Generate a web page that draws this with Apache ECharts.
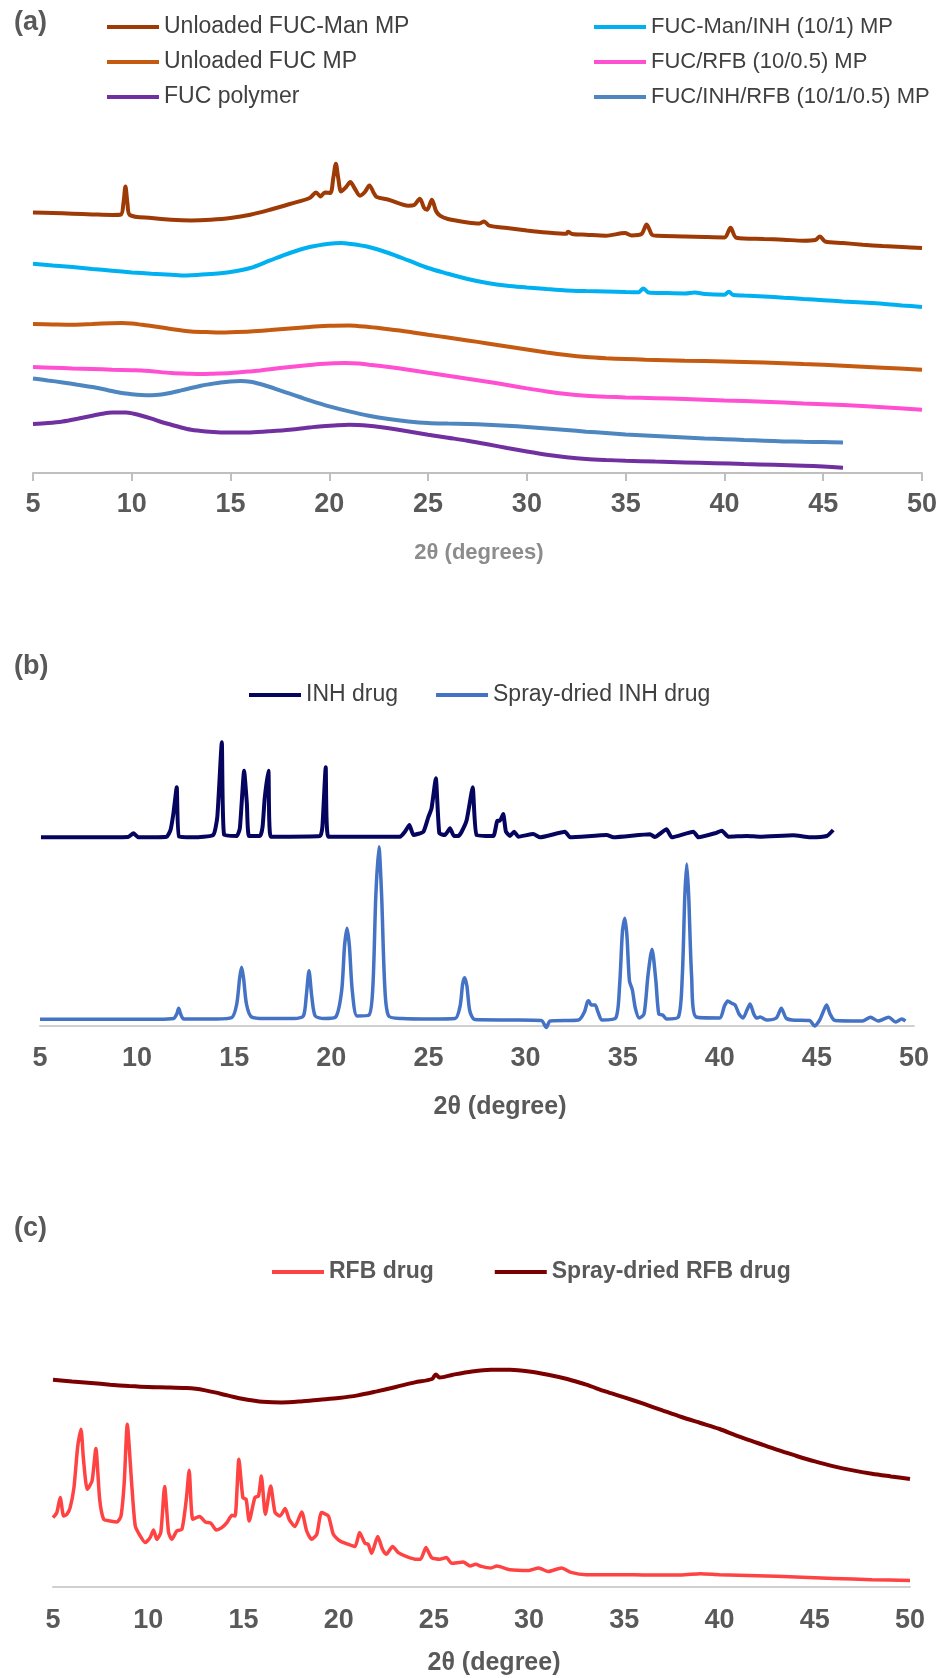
<!DOCTYPE html>
<html>
<head>
<meta charset="utf-8">
<script src="https://cdn.jsdelivr.net/npm/echarts@6/dist/echarts.min.js"></script>
<style>
html,body{margin:0;padding:0;background:#fff}
#chart{width:946px;height:1678px}
</style>
</head>
<body>
<div id="chart"></div>
<script>
// 2θ axis ticks shared by all three panels
const thetaTicks = [5, 10, 15, 20, 25, 30, 35, 40, 45, 50];

// ---- panel (a): microparticles, offset intensity (a.u.) vs 2θ ----
const fucManMP = [[5.0,260.6],[6.0,260],[7.0,259.3],[8.0,258.6],[9.0,258],[9.45,258.5],[9.58,270],[9.68,286.6],[9.78,270],[9.9,258],[11.0,255],[12.0,253.3],[13.0,252.6],[14.0,253.3],[15.0,255],[16.0,258.3],[17.0,263.3],[18.0,269],[19.0,275],[19.33,280.6],[19.55,276.6],[19.78,280.6],[20.05,280],[20.2,295],[20.33,309.3],[20.45,295],[20.6,281.6],[20.85,286],[21.06,291],[21.3,284],[21.55,277.3],[21.8,281],[22.03,287.6],[22.25,280],[22.4,276],[23.0,273.3],[24.0,267.3],[24.3,268],[24.58,274.3],[24.8,265],[24.95,263.3],[25.19,273.3],[25.4,262],[25.6,257.3],[26.0,254],[27.0,250.6],[27.6,249.5],[27.83,251.6],[28.1,247.3],[29.0,245],[30.0,242.6],[31.0,240.6],[32.0,239.3],[32.08,241.3],[32.3,239],[33.0,238.3],[34.0,237.3],[34.96,240],[35.3,237.6],[35.8,239],[36.06,248.6],[36.35,238],[36.6,237.3],[38.0,236.6],[39.0,236],[40.0,235.6],[40.31,245.3],[40.6,235.3],[42.0,234],[43.0,233.3],[44.0,232.3],[44.6,233],[44.83,236.6],[45.1,231.5],[46.0,230],[47.0,228.3],[48.0,227],[49.0,226],[50.0,225]];
const fucManInhMP = [[5.0,209.3],[6.0,207.6],[7.0,206],[8.0,204],[9.0,202.3],[10.0,200.6],[11.0,199.3],[12.0,198.3],[12.5,197.6],[13.0,197.8],[14.0,199],[15.0,201],[16.0,205],[17.0,212.6],[18.0,220],[19.0,226],[20.0,229.3],[20.6,230],[21.0,229.3],[22.0,226],[23.0,220],[24.0,212.6],[25.0,205],[26.0,199.3],[27.0,194],[28.0,190],[29.0,187.3],[30.0,185.6],[31.0,184],[32.0,182.6],[33.0,182],[34.0,181.6],[35.0,181],[35.65,180.8],[35.9,184.6],[36.15,180.6],[37.0,180],[38.0,179.6],[38.5,180.6],[39.0,179],[40.0,178.3],[40.22,181.3],[40.45,178],[41.0,177.5],[42.0,176.6],[43.0,175.3],[44.0,174],[45.0,172.8],[46.0,171.6],[47.0,170.5],[48.0,169.3],[49.0,167.6],[50.0,166]];
const fucMP = [[5.0,149],[6.0,148.6],[7.0,148.3],[8.0,149],[9.0,149.8],[9.5,150],[10.0,149.5],[10.5,148.3],[11.0,147],[12.0,144],[13.0,141.6],[14.0,140.8],[14.5,140.6],[15.0,140.8],[16.0,141.6],[17.0,143],[18.0,144.6],[19.0,146],[20.0,147.3],[21.0,147.6],[22.0,146],[23.0,143.8],[24.0,141.3],[25.0,138.3],[26.0,135.5],[27.0,132.6],[28.0,129.6],[29.0,126.6],[30.0,123.6],[31.0,120.6],[32.0,118],[33.0,116],[34.0,114.8],[35.0,114],[36.0,113.3],[38.0,112.3],[40.0,111.5],[42.0,110.6],[44.0,109],[46.0,107.3],[48.0,105.3],[50.0,103.3]];
const fucRfbMP = [[5.0,106],[6.0,105.3],[7.0,104.6],[8.0,104],[9.0,103.3],[10.0,102.8],[10.5,102.6],[11.0,101.8],[12.0,100],[13.0,99.2],[13.5,99],[14.0,99.2],[15.0,100],[16.0,101.6],[16.5,102.6],[17.0,103.8],[18.0,106],[19.0,108],[19.5,109],[20.0,109.6],[20.8,110],[21.5,109.5],[22.0,108.3],[23.0,106],[24.0,103.3],[25.0,100.3],[26.0,97.3],[27.0,94.3],[28.0,91.3],[29.0,88],[30.0,84.6],[31.0,81.5],[32.0,79],[33.0,77.3],[34.0,76.3],[35.0,75.6],[36.5,74.8],[38.0,74],[40.0,72.6],[42.0,71.3],[44.0,69.6],[46.0,68],[48.0,65.8],[50.0,63.3]];
const fucInhRfbMP = [[5.0,94.6],[5.75,92.6],[6.5,90.6],[7.25,88.3],[8.0,86],[8.75,83],[9.5,80],[10.0,78.8],[10.5,78],[11.0,77.8],[11.5,78.6],[12.0,80.3],[12.5,82.6],[13.0,85],[13.5,87.3],[14.0,89],[14.5,90.6],[15.0,91.6],[15.5,92],[16.0,91.3],[16.5,89],[17.0,86],[17.5,82.6],[18.0,79.3],[18.5,76],[19.0,72.6],[20.0,66.6],[21.0,61.6],[22.0,57.3],[23.0,54],[24.0,51.6],[25.0,50],[26.0,49.4],[27.0,49],[28.0,48.2],[29.0,47.3],[30.0,46],[31.0,44.6],[32.0,43],[33.0,41.3],[34.0,40],[35.0,38.6],[36.0,37.6],[37.0,36.6],[38.0,35.6],[39.0,34.6],[40.0,33.8],[41.0,33],[42.0,32.3],[43.0,31.6],[44.0,31.2],[45.0,30.9],[46.0,30.6]];
const fucPolymer = [[5.0,49],[5.75,50],[6.5,51.6],[7.25,54.3],[8.0,57.3],[8.5,59.3],[9.0,60.6],[9.7,60.6],[10.1,59.3],[10.5,57.3],[11.0,54.3],[11.5,51],[12.0,48.3],[12.5,45.5],[13.0,43.3],[13.75,41.6],[14.5,40.6],[15.25,40.4],[16.0,40.6],[17.0,41.8],[18.0,43.3],[19.0,45.5],[19.5,46.6],[20.25,47.6],[21.0,48.3],[22.0,47.3],[22.75,45.5],[23.5,43.3],[24.25,40.8],[25.0,38.3],[26.0,35.3],[27.0,32.3],[28.0,28.8],[29.0,25],[30.0,21.5],[31.0,18.3],[32.0,15.8],[33.0,14],[34.0,13],[35.0,12.3],[36.5,11.4],[38.0,10.6],[39.5,9.8],[41.0,9],[42.5,8.2],[44.0,7.3],[45.0,6.4],[46.0,5.3]];

// ---- panel (b): isoniazid ----
const inhDrug = [[5.05,188.7],[7.02,188.7],[9.54,189],[9.81,192.7],[10.06,188.7],[11.52,189.3],[11.72,196],[11.87,212.7],[12.04,238.7],[12.16,189.3],[12.89,188.7],[13.92,191],[14.13,209.3],[14.36,283.7],[14.48,191],[15.13,190],[15.29,197.7],[15.51,255.3],[15.65,222.7],[15.76,190],[16.33,190],[16.46,199.3],[16.57,227.7],[16.76,255.3],[16.88,189.3],[19.42,190],[19.54,199.3],[19.71,258.7],[19.84,189.3],[23.54,189.3],[23.79,194.3],[24.02,201],[24.23,191],[24.74,194.3],[24.99,208.7],[25.16,217.7],[25.38,247.7],[25.56,192.7],[25.85,191],[26.11,197.7],[26.31,190],[26.54,190],[26.71,194.3],[26.97,206],[27.28,238.7],[27.48,191],[28.34,190],[28.55,205.3],[28.68,205.3],[28.85,212],[28.99,194.3],[29.2,190],[29.41,194.3],[29.63,189.3],[30.4,192],[30.75,188.7],[32.03,194.3],[32.29,188.7],[34.18,191],[34.52,188.7],[36.41,191.7],[36.66,189],[37.26,196.7],[37.53,188.7],[38.64,194.3],[38.9,188.7],[39.75,192.7],[40.11,195.3],[40.44,189.3],[41.4,190],[42.07,189.3],[43.79,190.7],[44.65,188.7],[45.51,190],[45.84,196]];
const sprayInh = [[5.0,6.7],[7.02,6.7],[9.03,6.8],[11.05,6.8],[11.88,7.5],[12.04,12],[12.14,17.7],[12.24,12],[12.4,7],[14.07,7],[14.88,8.5],[15.13,22],[15.28,48],[15.38,58.7],[15.48,48],[15.63,22],[15.89,9],[16.59,7.5],[18.11,7.5],[18.56,10],[18.71,30],[18.85,55.3],[18.99,30],[19.17,10],[19.62,7.5],[20.22,9],[20.53,35],[20.68,80],[20.81,97.7],[20.93,80],[21.08,35],[21.33,10],[21.94,11],[22.14,40],[22.29,130],[22.45,179.3],[22.59,130],[22.75,40],[22.95,10],[23.65,7.5],[25.16,7],[26.37,7.5],[26.63,20],[26.76,42],[26.86,48.3],[26.98,40],[27.13,15],[27.38,6.5],[29.2,6],[30.81,5.5],[31.07,-1.5],[31.26,5],[32.73,6],[33.03,14],[33.18,24],[33.25,25.3],[33.38,21],[33.58,21],[33.73,14],[33.94,6],[34.64,8],[34.84,40],[34.99,95],[35.11,107.7],[35.22,90],[35.35,45],[35.5,36],[35.65,18],[35.85,8],[36.1,12],[36.3,50],[36.51,76.7],[36.71,45],[36.86,12],[37.06,11],[37.26,7],[37.87,9],[38.07,50],[38.2,130],[38.3,162],[38.4,130],[38.55,50],[38.78,9],[39.99,8],[40.24,20],[40.41,25],[40.59,23],[40.79,21],[40.99,12],[41.2,8],[41.4,16],[41.56,22],[41.75,12],[41.9,8],[42.08,9],[42.41,6],[42.91,8],[43.17,17.7],[43.41,8],[43.72,6],[44.62,5.5],[44.88,0],[45.13,5.5],[45.28,12],[45.5,21],[45.68,12],[45.93,5.5],[47.35,5],[47.76,8.7],[48.15,5],[48.7,8.7],[49.06,4],[49.37,7],[49.56,5]];

// ---- panel (c): rifabutin ----
const rfbDrug = [[5.0,69.4],[5.2,74.4],[5.38,89.4],[5.56,71],[5.73,72.7],[5.9,79.4],[6.1,99.4],[6.3,141],[6.47,157.7],[6.6,127.7],[6.8,97.7],[7.05,106],[7.25,138.4],[7.45,87.7],[7.66,67.7],[8.0,66],[8.36,65],[8.57,71],[8.74,104.4],[8.9,162.7],[9.14,101],[9.32,61],[9.58,51],[9.84,44.4],[10.1,49.4],[10.28,57],[10.45,47.7],[10.66,54.4],[10.86,100.4],[11.07,54.4],[11.24,47.7],[11.5,56],[11.77,57.7],[12.0,87.7],[12.15,116.7],[12.34,67.7],[12.7,70.4],[13.0,65],[13.3,63.7],[13.57,57],[13.86,59.4],[14.13,64.4],[14.4,71.7],[14.56,71],[14.76,127.7],[14.97,89.4],[15.14,87.7],[15.3,66],[15.6,89.4],[15.79,91],[15.94,111],[16.15,72.7],[16.43,101],[16.66,74.4],[16.92,71],[17.19,78.4],[17.4,67.7],[17.7,60.4],[18.06,75],[18.32,56],[18.58,47.7],[18.85,52.7],[19.1,74.4],[19.46,71],[19.72,52.7],[20.07,46],[20.5,42.7],[20.86,40.4],[21.1,54.4],[21.38,43.7],[21.55,42.7],[21.73,33.7],[22.05,50.4],[22.3,37.7],[22.5,32.7],[22.83,40.4],[23.13,34.4],[23.57,30.4],[24.09,27.7],[24.3,27.7],[24.58,39.4],[24.88,29.4],[25.3,27.7],[25.66,29.4],[25.93,23.7],[26.54,25],[26.9,21],[27.2,22.7],[27.5,20.6],[28.0,19],[28.3,21],[29.0,17.3],[30.0,16.6],[30.5,19],[31.0,15.5],[31.7,19],[32.2,14.6],[33.0,12.3],[35.0,12.3],[36.0,12],[38.0,12],[39.0,13.3],[40.0,12.3],[42.0,11.3],[44.0,10],[46.0,8.6],[48.0,7.3],[50.0,6.6]];
const sprayRfb = [[5.0,207.3],[6.0,205.6],[7.0,204],[8.0,202.3],[9.0,201],[10.0,200],[11.0,199.6],[12.0,199],[12.5,198.2],[13.0,196.6],[13.5,194.6],[14.0,192.3],[14.5,190],[15.0,188],[15.5,186.5],[16.0,185.3],[17.0,184.6],[18.0,185.6],[19.0,187.3],[20.0,189],[21.0,191.6],[22.0,195.6],[23.0,200],[24.0,204.6],[24.9,208],[25.1,212.5],[25.3,209.5],[26.0,212.3],[27.0,215.6],[28.0,217.3],[29.0,217.3],[30.0,215.6],[31.0,212.3],[32.0,208],[33.0,202.3],[34.0,195.6],[35.0,189.6],[36.0,183.3],[37.0,176.6],[38.0,170],[39.0,164],[40.0,158],[41.0,150.6],[42.0,144],[43.0,137.3],[44.0,131.3],[45.0,125.6],[46.0,120.6],[47.0,116.6],[48.0,113.3],[49.0,110.6],[50.0,108]];

const FONT = '"Liberation Sans", Arial, Helvetica, sans-serif';

function thetaAxis(gridIndex, withTicks, margin) {
  return {
    type: 'value', gridIndex: gridIndex, min: 5, max: 50, interval: 5,
    axisLine: { show: true, onZero: false, lineStyle: { color: withTicks ? '#BFBFBF' : '#D0D0D0', width: 2 } },
    axisTick: { show: withTicks, length: 8, lineStyle: { color: '#BFBFBF', width: 2 } },
    splitLine: { show: false },
    axisLabel: {
      margin: margin, color: '#595959', fontFamily: FONT, fontWeight: 'bold', fontSize: 27,
      formatter: function (v) { return thetaTicks.indexOf(v) >= 0 ? String(v) : ''; }
    }
  };
}
function hiddenY(gridIndex, maxV) {
  return { type: 'value', gridIndex: gridIndex, min: 0, max: maxV, show: false, splitLine: { show: false } };
}
function trace(name, data, color, width, gi, smooth) {
  return {
    name: name, type: 'line', data: data, xAxisIndex: gi, yAxisIndex: gi,
    showSymbol: false, symbol: 'none', clip: false, smooth: smooth,
    color: color, lineStyle: { color: color, width: width }, emphasis: { disabled: true }
  };
}
function legendBlock(names, left, top, orient, gap, size, bold, color) {
  return {
    data: names, orient: orient, left: left, top: top, itemGap: gap, padding: 0,
    icon: 'rect', itemWidth: 52, itemHeight: 4, selectedMode: false,
    textStyle: { fontFamily: FONT, fontSize: size, lineHeight: 26, color: color,
      fontWeight: bold ? 'bold' : 'normal' }
  };
}
function label(text, x, y, size, color, align) {
  return { type: 'text', x: x, y: y, silent: true,
    style: { text: text, fill: color, font: 'bold ' + size + 'px ' + FONT, align: align, verticalAlign: 'middle' } };
}

const chart = echarts.init(document.getElementById('chart'), null, { renderer: 'canvas' });
chart.setOption({
  animation: false,
  backgroundColor: '#ffffff',
  grid: [
    { left: 33, width: 889, top: 153, height: 320 },
    { left: 40, width: 874, top: 726, height: 300 },
    { left: 53, width: 857, top: 1357, height: 230 }
  ],
  xAxis: [thetaAxis(0, true, 18), thetaAxis(1, false, 19), thetaAxis(2, false, 20)],
  yAxis: [hiddenY(0, 320), hiddenY(1, 300), hiddenY(2, 230)],
  legend: [
    legendBlock(['Unloaded FUC-Man MP', 'Unloaded FUC MP', 'FUC polymer'], 107, 14, 'vertical', 9, 23, false, '#404040'),
    legendBlock(['FUC-Man/INH (10/1) MP', 'FUC/RFB (10/0.5) MP', 'FUC/INH/RFB (10/1/0.5) MP'], 594, 14, 'vertical', 9, 22, false, '#404040'),
    legendBlock(['INH drug', 'Spray-dried INH drug'], 249, 682, 'horizontal', 38, 23, false, '#404040'),
    legendBlock(['RFB drug', 'Spray-dried RFB drug'], 272, 1259, 'horizontal', 61, 23, true, '#595959')
  ],
  graphic: [
    label('(a)', 14, 23, 27, '#595959', 'left'),
    label('(b)', 14, 667, 27, '#595959', 'left'),
    label('(c)', 14, 1229, 27, '#595959', 'left'),
    label('2θ (degrees)', 479, 553, 22, '#8C8C8C', 'center'),
    label('2θ (degree)', 500, 1107, 25, '#595959', 'center'),
    label('2θ (degree)', 494, 1663, 25, '#595959', 'center')
  ],
  series: [
    trace('Unloaded FUC-Man MP', fucManMP, '#9E3A06', 4, 0, 0.3),
    trace('FUC-Man/INH (10/1) MP', fucManInhMP, '#00B0F0', 4, 0, 0.3),
    trace('Unloaded FUC MP', fucMP, '#C55A11', 4, 0, 0.3),
    trace('FUC/RFB (10/0.5) MP', fucRfbMP, '#FF50D2', 4, 0, 0.3),
    trace('FUC/INH/RFB (10/1/0.5) MP', fucInhRfbMP, '#4E86C0', 4, 0, 0.3),
    trace('FUC polymer', fucPolymer, '#7030A0', 4, 0, 0.3),
    trace('INH drug', inhDrug, '#05055F', 4, 1, 0.15),
    trace('Spray-dried INH drug', sprayInh, '#4472C4', 3.5, 1, 0.25),
    trace('RFB drug', rfbDrug, '#FF4343', 3.5, 2, 0.2),
    trace('Spray-dried RFB drug', sprayRfb, '#7B0000', 4, 2, 0.3)
  ]
});
</script>
</body>
</html>
